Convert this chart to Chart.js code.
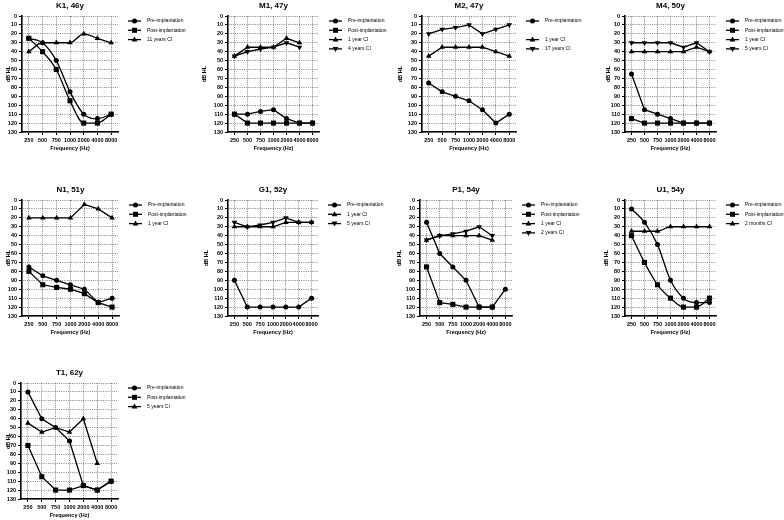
<!DOCTYPE html>
<html>
<head>
<meta charset="utf-8">
<script src="https://cdn.jsdelivr.net/npm/chart.js@4.4.1/dist/chart.umd.min.js"></script>
<style>
  html, body { margin: 0; padding: 0; background: #fff; overflow: hidden; }
  #wrap { position: relative; width: 784px; height: 520px; }
  #wrap canvas { position: absolute; }
</style>
</head>
<body>
<div id="wrap"></div>
<script>
// frequencies on the x axis
const freqs = ["250", "500", "750", "1000", "2000", "4000", "8000"];

// thresholds in dB HL, one array per curve
const k1Pre = [25, 30, 50, 85, 110, 115, 110];
const k1Post = [25, 40, 60, 95, 120, 120, 110];
const k1Ci11y = [40, 30, 30, 30, 20, 25, 30];

const m1Pre = [110, 110, 107, 105, 115, 120, 120];
const m1Post = [110, 120, 120, 120, 120, 120, 120];
const m1Ci1y = [45, 35, 35, 35, 25, 30, null];
const m1Ci4y = [45, 40, 37, 35, 30, 35, null];

const m2Pre = [75, 85, 90, 95, 105, 120, 110];
const m2Ci1y = [45, 35, 35, 35, 35, 40, 45];
const m2Ci17y = [20, 15, 13, 10, 20, 15, 10];

const m4Pre = [65, 105, 110, 115, 120, 120, 120];
const m4Post = [115, 120, 120, 120, 120, 120, 120];
const m4Ci1y = [40, 40, 40, 40, 40, 35, 40];
const m4Ci5y = [30, 30, 30, 30, 35, 30, 40];

const n1Pre = [75, 85, 90, 95, 100, 115, 110];
const n1Post = [80, 95, 98, 100, 105, 115, 120];
const n1Ci1y = [20, 20, 20, 20, 5, 10, 20];

const g1Pre = [90, 120, 120, 120, 120, 120, 110];
const g1Ci1y = [30, 30, 30, 30, 25, 25, 25];
const g1Ci5y = [25, 30, 28, 25, 20, 25, 25];

const p1Pre = [25, 60, 75, 90, 120, 120, 100];
const p1Post = [75, 115, 117, 120, 120, 120, null];
const p1Ci1y = [45, 40, 40, 40, 40, 45, null];
const p1Ci2y = [45, 40, 38, 35, 30, 40, null];

const u1Pre = [10, 25, 50, 90, 110, 115, 115];
const u1Post = [40, 70, 95, 110, 120, 120, 110];
const u1Ci2m = [35, 35, 35, 30, 30, 30, 30];

const t1Pre = [10, 40, 50, 65, 115, 120, 110];
const t1Post = [70, 105, 120, 120, 115, 120, 110];
const t1Ci5y = [45, 55, 50, 55, 40, 90, null];

const FONT = "'Liberation Sans', Arial, sans-serif";
const PANEL_W = 196;
const PANEL_H = 152;
const rowTops = [0, 184, 367];

// marker shapes: circle = pre, rect = post, up = first CI, down = later CI
const panels = [
  { title: "K1, 46y", col: 0, row: 0, yTitleX: 8, plotL: 22, plotR: 118, smooth: true,
    series: [["Pre-implantation", k1Pre, "circle"], ["Post-implantation", k1Post, "rect"], ["11 years CI", k1Ci11y, "up"]] },
  { title: "M1, 47y", col: 1, row: 0, yTitleX: 8, plotL: 32, plotR: 123,
    series: [["Pre-implantation", m1Pre, "circle"], ["Post-implantation", m1Post, "rect"], ["1 year CI", m1Ci1y, "up"], ["4 years CI", m1Ci4y, "down"]] },
  { title: "M2, 47y", col: 2, row: 0, yTitleX: 8, plotL: 30, plotR: 124,
    series: [["Pre-implantation", m2Pre, "circle"], null, ["1 year CI", m2Ci1y, "up"], ["17 years CI", m2Ci17y, "down"]] },
  { title: "M4, 50y", col: 3, row: 0, yTitleX: 20, plotL: 37, plotR: 128,
    series: [["Pre-implantation", m4Pre, "circle"], ["Post-implantation", m4Post, "rect"], ["1 year CI", m4Ci1y, "up"], ["5 years CI", m4Ci5y, "down"]] },
  { title: "N1, 51y", col: 0, row: 1, yTitleX: 8, plotL: 22, plotR: 119,
    series: [["Pre-implantation", n1Pre, "circle"], ["Post-implantation", n1Post, "rect"], ["1 year CI", n1Ci1y, "up"]] },
  { title: "G1, 52y", col: 1, row: 1, yTitleX: 10, plotL: 32, plotR: 122,
    series: [["Pre-implantation", g1Pre, "circle"], ["1 year CI", g1Ci1y, "up"], ["5 years CI", g1Ci5y, "down"]] },
  { title: "P1, 54y", col: 2, row: 1, yTitleX: 7, plotL: 28, plotR: 120,
    series: [["Pre-implantation", p1Pre, "circle"], ["Post-implantation", p1Post, "rect"], ["1 year CI", p1Ci1y, "up"], ["2 years CI", p1Ci2y, "down"]] },
  { title: "U1, 54y", col: 3, row: 1, yTitleX: 18, plotL: 37, plotR: 128, smooth: true,
    series: [["Pre-implantation", u1Pre, "circle"], ["Post-implantation", u1Post, "rect"], ["2 months CI", u1Ci2m, "up"]] },
  { title: "T1, 62y", col: 0, row: 2, yTitleX: 8, plotL: 21, plotR: 118,
    series: [["Pre-implantation", t1Pre, "circle"], ["Post-implantation", t1Post, "rect"], ["5 years CI", t1Ci5y, "up"]] },
];

function drawMarker(ctx, shape, x, y) {
  ctx.beginPath();
  if (shape === "circle") {
    ctx.arc(x, y, 2.5, 0, Math.PI * 2);
  } else if (shape === "rect") {
    ctx.rect(x - 2.5, y - 2.5, 5, 5);
  } else if (shape === "up") {
    ctx.moveTo(x, y - 3); ctx.lineTo(x + 2.9, y + 2); ctx.lineTo(x - 2.9, y + 2);
  } else {
    ctx.moveTo(x, y + 3); ctx.lineTo(x + 2.9, y - 2); ctx.lineTo(x - 2.9, y - 2);
  }
  ctx.closePath();
  ctx.fill();
}

// legend: short line with marker, label to the right of the plot
const legendLines = {
  id: "legendLines",
  afterDraw(chart) {
    const ctx = chart.ctx;
    const area = chart.chartArea;
    const x0 = area.right + 10;
    chart.data.datasets.forEach((ds, i) => {
      if (!ds.label) return;
      const y = area.top + 5 + i * 9.3;
      ctx.save();
      ctx.strokeStyle = "#000";
      ctx.fillStyle = "#000";
      ctx.lineWidth = 1.3;
      ctx.beginPath();
      ctx.moveTo(x0, y);
      ctx.lineTo(x0 + 13, y);
      ctx.stroke();
      drawMarker(ctx, ds.shape, x0 + 6.5, y);
      ctx.font = "5px " + FONT;
      ctx.textAlign = "left";
      ctx.textBaseline = "middle";
      ctx.fillText(ds.label, area.right + 29, y);
      ctx.restore();
    });
  },
};

const wrap = document.getElementById("wrap");

panels.forEach((p) => {
  const canvas = document.createElement("canvas");
  canvas.width = PANEL_W;
  canvas.height = PANEL_H;
  canvas.style.left = p.col * PANEL_W + "px";
  canvas.style.top = rowTops[p.row] + "px";
  wrap.appendChild(canvas);

  const datasets = p.series.map((s) => {
    if (!s) return { label: "", data: [], shape: null }; // empty legend slot
    const [label, data, shape] = s;
    return {
      label,
      data,
      shape,
      borderColor: "#000",
      backgroundColor: "#000",
      borderWidth: 1.3,
      pointStyle: shape === "circle" ? "circle" : shape === "rect" ? "rect" : "triangle",
      rotation: shape === "down" ? 180 : 0,
      pointRadius: shape === "rect" ? 3.6 : shape === "circle" ? 2.5 : 3.2,
      pointBorderWidth: 0,
      cubicInterpolationMode: p.smooth ? "monotone" : "default",
      tension: 0,
    };
  });

  new Chart(canvas, {
    type: "line",
    data: { labels: freqs, datasets },
    options: {
      responsive: false,
      animation: false,
      layout: { padding: { left: 0, right: PANEL_W - p.plotR, top: 0, bottom: 0 } },
      plugins: {
        legend: { display: false },
        tooltip: { enabled: false },
        title: {
          display: true,
          text: p.title,
          color: "#000",
          fullSize: false,
          font: { family: FONT, size: 8, weight: "bold" },
          padding: { top: 1, bottom: 5.4 },
        },
      },
      scales: {
        x: {
          type: "category",
          offset: true,
          afterFit: (scale) => { scale.height = 20; },
          grid: {
            offset: false,
            color: "#666",
            lineWidth: 0.8,
            tickColor: "#000",
            tickLength: 3,
            tickWidth: 1,
            tickBorderDash: [],
          },
          border: { color: "#000", width: 1.6, dash: [1, 1.2] },
          ticks: {
            color: "#000",
            padding: 2,
            maxRotation: 0,
            autoSkip: false,
            font: { family: FONT, size: 5.5, weight: "bold" },
          },
          title: {
            display: true,
            text: "Frequency (Hz)",
            color: "#000",
            padding: 0,
            font: { family: FONT, size: 5.5, weight: "bold" },
          },
        },
        y: {
          min: 0,
          max: 130,
          reverse: true,
          afterFit: (scale) => { scale.width = p.plotL; },
          grid: {
            color: "#666",
            lineWidth: 0.8,
            tickColor: "#000",
            tickLength: 3,
            tickWidth: 1,
            tickBorderDash: [],
          },
          border: { color: "#000", width: 1.6, dash: [1, 1.2] },
          ticks: {
            stepSize: 10,
            autoSkip: false,
            color: "#000",
            padding: 2,
            font: { family: FONT, size: 5.5, weight: "bold" },
          },
          title: {
            display: true,
            text: "dB HL",
            color: "#000",
            padding: Math.max(0, p.yTitleX - 3.3),
            font: { family: FONT, size: 5.5, weight: "bold" },
          },
        },
      },
    },
    plugins: [legendLines],
  });
});
</script>
</body>
</html>
